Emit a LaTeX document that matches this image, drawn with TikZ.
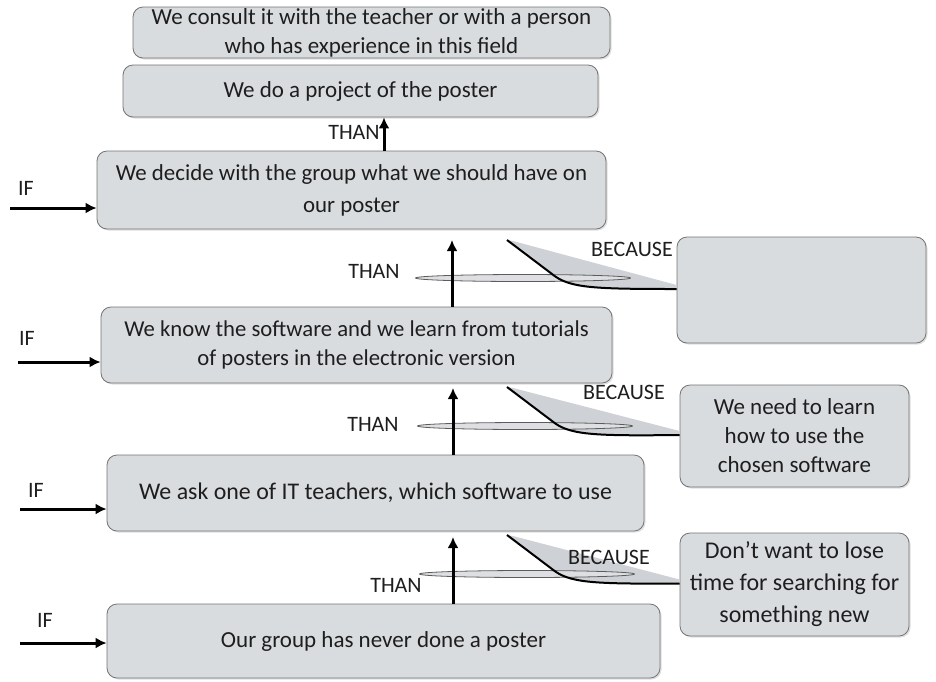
\documentclass[tikz,border=0pt]{standalone}
\usepackage{fontspec}
\setmainfont{Carlito}
\usetikzlibrary{arrows.meta,calc,shapes.geometric,shadows}
\definecolor{boxgray}{RGB}{217,220,223}
\definecolor{edgegray}{RGB}{115,115,115}
\definecolor{wedgegray}{RGB}{206,209,213}
\definecolor{txt}{RGB}{30,30,30}
\tikzset{
  box/.style={draw=edgegray, line width=0.8pt, fill=boxgray, rounded corners=10pt, align=center, text=txt, font=\fontsize{23}{29}\selectfont, inner sep=0pt, drop shadow={shadow xshift=1.5pt, shadow yshift=-1.5pt, opacity=0.25}},
  lbl/.style={text=txt, font=\fontsize{22}{26}\selectfont, inner sep=0pt},
  arr/.style={line width=3pt, -{Latex[length=11pt,width=11pt]}},
  lens/.style={ellipse, draw=edgegray!80!black, line width=0.8pt, fill=wedgegray!70, inner sep=0pt, minimum height=7pt},
  wedge/.style={fill=wedgegray, draw=none},
  curve/.style={line width=2pt, black}
}
\begin{document}
\begin{tikzpicture}[x=1pt,y=-1pt]
\useasboundingbox (0,0) rectangle (936,681);
% main boxes
\node[box, minimum width=477pt, minimum height=51pt] (b1) at (371.5,32.5) {We consult it with the teacher or with a person\\who has experience in this field};
\node[box, minimum width=475pt, minimum height=52pt] (b2) at (360.5,91) {We do a project of the poster};
\node[box, minimum width=509pt, minimum height=78pt, font=\fontsize{22.9}{32}\selectfont] (b3) at (351.5,190) {We decide with the group what we should have on\\our poster};
\node[box, minimum width=511pt, minimum height=76pt, font=\fontsize{22.7}{29}\selectfont] (b4) at (356.5,345) {We know the software and we learn from tutorials\\of posters in the electronic version};
\node[box, minimum width=537pt, minimum height=76pt, font=\fontsize{23.9}{30}\selectfont] (b5) at (375.5,493) {We ask one of IT teachers, which software to use};
\node[box, minimum width=553pt, minimum height=74pt, font=\fontsize{23}{30}\selectfont] (b6) at (383.5,641) {Our group has never done a poster};
% right boxes
\node[box, minimum width=249pt, minimum height=106pt] (r1) at (801.5,290) {};
\node[box, minimum width=229pt, minimum height=102pt] (r2) at (794.5,436) {We need to learn\\how to use the\\chosen software};
\node[box, minimum width=229pt, minimum height=103pt, font=\fontsize{24}{32}\selectfont] (r3) at (794.5,584.5) {Don’t want to lose\\time for searching for\\something new};

% THAN arrow top
\coordinate (t1) at (384,117);
\draw[arr] (b3.north -| t1) -- (b2.south -| t1);
\node[lbl] (than1) at (354,132) {THAN};

% callouts
\foreach \r/\y/\ey/\lx [count=\i] in {r1/240/278/523, r2/387/426/525, r3/535/574/527}{
  \coordinate (s\i) at (507,\y);
  \fill[wedge] (s\i) -- ($(s\i)+(45,34)$) .. controls ($(s\i)+(62,48)$) and ($(s\i)+(85,49)$) .. ($(\r.west)+(0,-1)$) -- ($(\r.west)+(0,-5)$) -- ($(s\i)+(6,1)$) -- cycle;
  \node[lens, minimum width=215pt] (e\i) at (\lx,\ey) {};
  \draw[curve] (s\i) -- ($(s\i)+(45,34)$) .. controls ($(s\i)+(62,48)$) and ($(s\i)+(85,49)$) .. ($(\r.west)+(0,-1)$);
}
% vertical THAN arrows
\coordinate (a2) at (452,240);
\coordinate (a3) at (453,388);
\coordinate (a4) at (453,537);
\draw[arr] (b4.north -| a2) -- (a2);
\draw[arr] (b5.north -| a3) -- (a3);
\draw[arr] (b6.north -| a4) -- (a4);
\node[lbl] (than2) at (374,271) {THAN};
\node[lbl] (than3) at (373,424) {THAN};
\node[lbl] (than4) at (396,585) {THAN};
\node[lbl] (bec1) at (632,249) {BECAUSE};
\node[lbl] (bec2) at (624,392) {BECAUSE};
\node[lbl] (bec3) at (609,557) {BECAUSE};

% IF arrows
\coordinate (i1) at (10,208);
\coordinate (i2) at (18,362);
\coordinate (i3) at (20,509);
\coordinate (i4) at (20,643);
\draw[arr] (i1) -- (i1 -| b3.west);
\draw[arr] (i2) -- (i2 -| b4.west);
\draw[arr] (i3) -- (i3 -| b5.west);
\draw[arr] (i4) -- (i4 -| b6.west);
\node[lbl] (if1) at (26,188) {IF};
\node[lbl] (if2) at (27,338) {IF};
\node[lbl] (if3) at (36,490) {IF};
\node[lbl] (if4) at (45,620) {IF};
\end{tikzpicture}
\end{document}
